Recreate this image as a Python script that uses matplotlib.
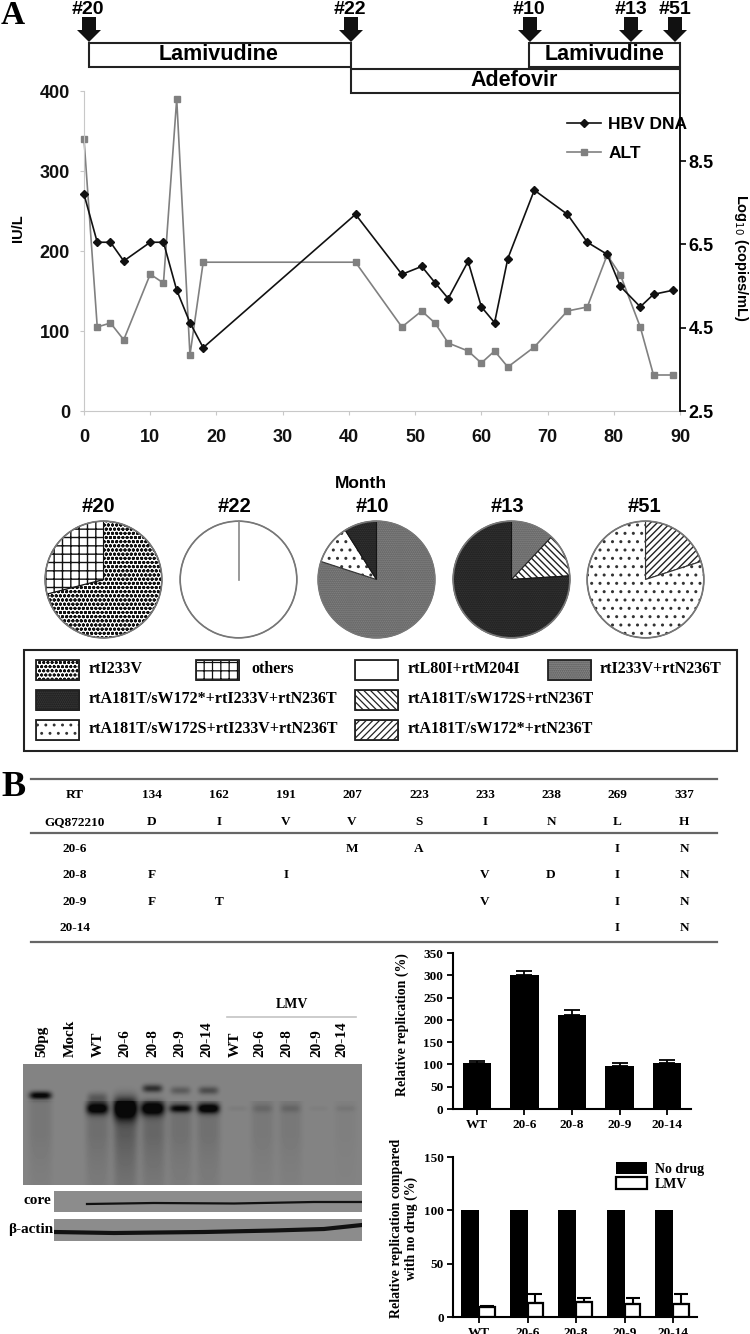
import numpy as np
import matplotlib
matplotlib.use("Agg")
import matplotlib.pyplot as plt
from matplotlib.patches import Rectangle, Polygon

W, H = 750, 1334
SANS = ["Liberation Sans Narrow", "Liberation Sans", "DejaVu Sans"]
SERIF = ["Liberation Serif", "DejaVu Serif"]

# Panel A time course
dna_months = [0, 2, 4, 6, 10, 12, 14, 16, 18, 41, 48, 51, 53, 55, 58, 60, 62, 64, 68, 73, 76, 79, 81, 84, 86, 89]
dna_log = [7.7, 6.55, 6.55, 6.1, 6.55, 6.55, 5.4, 4.62, 4.02, 7.22, 5.78, 5.97, 5.58, 5.2, 6.09, 5.0, 4.62, 6.16, 7.8, 7.22, 6.55, 6.26, 5.49, 5.0, 5.3, 5.4]
alt_months = [0, 2, 4, 6, 10, 12, 14, 16, 18, 41, 48, 51, 53, 55, 58, 60, 62, 64, 68, 73, 76, 79, 81, 84, 86, 89]
alt_iu = [340, 105, 110, 89, 171, 160, 390, 70, 186, 186, 105, 125, 110, 85, 75, 60, 75, 55, 80, 125, 130, 195, 170, 105, 45, 45]
right_ticks = [2.5, 4.5, 6.5, 8.5]

# Treatment bars and sampling arrows (months are implied by pixel positions of the original)
sample_names = ["#20", "#22", "#10", "#13", "#51"]
sample_x = [89, 351, 530, 631, 675]

# Panel A pies
variants = ["rtI233V", "others", "rtL80I+rtM204I", "rtI233V+rtN236T",
            "rtA181T/sW172*+rtI233V+rtN236T", "rtA181T/sW172S+rtN236T",
            "rtA181T/sW172S+rtI233V+rtN236T", "rtA181T/sW172*+rtN236T"]
variant_face = ["white", "white", "white", "#8a8a8a", "#3a3a3a", "white", "white", "white"]
variant_hatch = ["oooo", "++", "", "........", "........", "\\\\\\\\\\", "..", "/////"]
variant_line = ["#111111", "#111111", "#777777", "#555555", "#151515", "#222222", "#333333", "#222222"]
pie_parts = [[0, 1], [2], [3, 6, 4], [3, 5, 4], [7, 6]]
pie_values = [[71, 29], [100], [80, 11, 9], [12, 12, 76], [20, 80]]
pie_left = [44, 179, 317, 452, 586]

# Panel B table
table_head = ["RT", "134", "162", "191", "207", "223", "233", "238", "269", "337"]
table_ref = ["GQ872210", "D", "I", "V", "V", "S", "I", "N", "L", "H"]
table_rows = [["20-6", "", "", "", "M", "A", "", "", "I", "N"],
              ["20-8", "F", "", "I", "", "", "V", "D", "I", "N"],
              ["20-9", "F", "T", "", "", "", "V", "", "I", "N"],
              ["20-14", "", "", "", "", "", "", "", "I", "N"]]
table_x = [75, 152, 219, 286, 352, 419, 485, 551, 617, 684]

# Panel B blot
lane_names = ["50pg", "Mock", "WT", "20-6", "20-8", "20-9", "20-14", "WT", "20-6", "20-8", "20-9", "20-14"]
lane_x = [42, 70, 98, 125, 153, 180, 207, 235, 260, 287, 317, 342]
band_x = [40, 97, 97, 125, 152, 152, 180, 180, 208, 208, 237, 262, 290, 318, 345]
band_y = [1095, 1108, 1097, 1108, 1108, 1088, 1108, 1090, 1108, 1090, 1108, 1108, 1108, 1108, 1108]
band_w = [11, 11, 10, 12, 12, 10, 11, 10, 11, 10, 10, 10, 10, 10, 10]
band_h = [4, 6, 5, 11, 7, 4, 4, 4, 5, 4, 3, 4, 4, 3, 3]
band_dark = [135, 135, 40, 150, 140, 85, 110, 40, 140, 55, 8, 18, 20, 6, 10]
smear_x = [40, 97, 125, 153, 180, 208, 262, 290, 345]
smear_dark = [14, 22, 42, 30, 20, 20, 12, 12, 5]

# Panel B bars
bar_groups = ["WT", "20-6", "20-8", "20-9", "20-14"]
replication = [103, 300, 211, 96, 103]
replication_err = [5, 10, 11, 8, 7]
no_drug = [100, 100, 100, 100, 100]
lmv = [9, 13, 14, 12, 12]
lmv_err = [1.5, 9, 4, 6, 10]

fig = plt.figure(figsize=(W / 100, H / 100), dpi=100)


def ax_px(x0, y0, x1, y1, **kw):
    return fig.add_axes([x0 / W, 1 - y1 / H, (x1 - x0) / W, (y1 - y0) / H], **kw)


# overlay in pixel coordinates for labels, boxes and swatches
ov = ax_px(0, 0, W, H, zorder=5)
ov.set_xlim(0, W)
ov.set_ylim(H, 0)
ov.axis("off")
ov.patch.set_alpha(0)

# %% Panel A line chart
ax = ax_px(84, 91, 680, 411)
ax.plot(alt_months, alt_iu, color="#808080", lw=1.2, marker="s", ms=4.2, label="ALT", clip_on=False)
ax.set_xlim(0, 90)
ax.set_ylim(0, 400)
ax.set_xticks(range(0, 91, 10))
ax.set_yticks(range(0, 401, 100))
ax.spines["top"].set_visible(False)
ax.spines["right"].set_visible(False)
for s in ["left", "bottom"]:
    ax.spines[s].set_color("#c8c8c8")
ax.tick_params(colors="#c8c8c8", length=3, pad=7, labelcolor="#111111")
for t in ax.get_xticklabels() + ax.get_yticklabels():
    t.set_family(SANS)
    t.set_weight("bold")
    t.set_size(13)
ax.tick_params(axis="x", pad=10)

ax2 = ax.twinx()
ax2.plot(dna_months, dna_log, color="#111111", lw=1.2, marker="D", ms=4, label="HBV DNA", clip_on=False)
ax2.set_ylim(2.5, 10.18)
ax2.set_yticks(right_ticks)
ax2.set_yticklabels([f"{v:.1f}" for v in right_ticks], family=SANS, weight="bold", size=13)
ax2.spines["top"].set_visible(False)
ax2.spines["left"].set_visible(False)
ax2.spines["bottom"].set_visible(False)
ax2.spines["right"].set_linewidth(1.3)
ax2.tick_params(length=4, width=1.2, pad=2)
ax2.spines["right"].set_bounds(2.5, 10.1)

h1, l1 = ax2.get_legend_handles_labels()
h2, l2 = ax.get_legend_handles_labels()
ax2.legend(h1 + h2, l1 + l2, loc="upper left", bbox_to_anchor=(0.795, 0.945), frameon=False, labelspacing=0.75,
           handlelength=2.0, handletextpad=0.4, borderpad=0, prop={"family": SANS, "weight": "bold", "size": 12.5})

ov.text(18, 228, "IU/L", rotation=90, ha="center", va="center", family="Liberation Sans", weight="bold", size=10.5)
ov.text(741, 258, "Log$_{10}$ (copies/mL)", rotation=270, ha="center", va="center", family="Liberation Sans",
        weight="bold", size=10.5, math_fontfamily="dejavusans")
ov.text(361, 484, "Month", ha="center", va="center", family=SANS, weight="bold", size=12.5)
ov.text(13, 16, "A", ha="center", va="center", family=SERIF, weight="bold", size=24)
ov.text(13, 788, "B", ha="center", va="center", family=SERIF, weight="bold", size=26)

# treatment boxes
for x0, x1, y0, y1, name in [(89, 351, 43, 67, "Lamivudine"), (529, 680, 43, 67, "Lamivudine"), (351, 680, 69, 93, "Adefovir")]:
    ov.add_patch(Rectangle((x0, y0), x1 - x0, y1 - y0, fc="white", ec="#222222", lw=1.5))
    ov.text((x0 + x1) / 2 + (-1 if x0 != 529 else 0), (y0 + y1) / 2, name, ha="center", va="center", family="Liberation Sans", weight="bold", size=15.5)

for name, x in zip(sample_names, sample_x):
    ov.add_patch(Polygon([(x - 7, 17), (x + 7, 17), (x + 7, 30), (x + 12, 30), (x, 42), (x - 12, 30), (x - 7, 30)], fc="#111111", ec="none", zorder=3))
    ov.text(x - 1 if x < 600 else x, 10, name, ha="center", va="center", family=SANS, weight="bold", size=14, zorder=4)

# %% Pies
for name, parts, vals, left, tx in zip(sample_names, pie_parts, pie_values, pie_left, [98, 235, 372, 507, 644]):
    pax = ax_px(left, 520, left + 119, 639)
    wedges, _ = pax.pie(vals, startangle=90, counterclock=False, radius=1.0)
    for w, p in zip(wedges, parts):
        w.set_facecolor(variant_face[p])
        w.set_hatch(variant_hatch[p])
        w.set_edgecolor(variant_line[p])
        w.set_linewidth(0.8)
    # grey ring like the outline in the figure
    pax.pie([1], radius=1.0, startangle=90, wedgeprops={"fc": "none", "ec": "#777777", "lw": 1.2})
    if len(vals) == 1:
        pax.plot([0, 0], [0, 1], color="#888888", lw=1.2)
    pax.set_xlim(-1.02, 1.02)
    pax.set_ylim(-1.02, 1.02)
    ov.text(tx, 507, name, ha="center", va="center", family=SANS, weight="bold", size=14.5)

plt.rcParams["hatch.linewidth"] = 0.9

# %% Pie legend
ov.add_patch(Rectangle((24, 650), 713, 101, fc="white", ec="#222222", lw=1.5, zorder=1))
legend_pos = [(36, 670, 89), (196, 670, 251), (355, 670, 408), (548, 670, 600),
              (36, 700, 89), (355, 700, 408), (36, 730, 89), (355, 730, 408)]
for i, (sx, sy, tx) in enumerate(legend_pos):
    ov.add_patch(Rectangle((sx, sy - 10), 43, 20, fc=variant_face[i], ec=variant_line[i], hatch=variant_hatch[i], lw=0.6, zorder=2))
    ov.add_patch(Rectangle((sx, sy - 10), 43, 20, fc="none", ec="#222222", lw=1.3, zorder=2))
    ov.text(tx, sy - 1, variants[i], ha="left", va="center", family=SERIF, weight="bold", size=11.5, zorder=2)

# %% Table
for y in [779, 833, 942]:
    ov.plot([31, 717], [y, y], color="#666666", lw=1.6)
rows = [table_head, table_ref] + table_rows
for y, row in zip([795, 822, 849, 875, 902, 928], rows):
    for x, s in zip(table_x, row):
        ov.text(x, y, s, ha="center", va="center", family=SERIF, weight="bold", size=9.5)

# %% Blot
x0, x1, y0, y1 = 23, 362, 1064, 1185
xx, yy = np.meshgrid(np.arange(x0, x1), np.arange(y0, y1))
gel = np.full(xx.shape, 132.0)
for x, dark in zip(smear_x, smear_dark):
    gel -= dark * np.exp(-((xx - x) / 12.0) ** 4) * np.exp(-np.clip(yy - 1135, 0, None) / 60.0) * (yy > 1100)
for x, y, w, h, dark in zip(band_x, band_y, band_w, band_h, band_dark):
    gel -= dark * np.exp(-((xx - x) / w) ** 4) * np.exp(-((yy - y) / h) ** 2)
gax = ax_px(x0, y0, x1, y1)
gax.imshow(np.clip(gel, 8, 255), cmap="gray", vmin=0, vmax=255, aspect="auto")
gax.axis("off")

cax = ax_px(54, 1191, 362, 1212)
cax.set_facecolor("#8c8c8c")
cax.plot([33, 100, 180, 260, 308], [13, 12, 12.5, 11, 11], color="#111111", lw=1.6)
cax.set_xlim(0, 308)
cax.set_ylim(21, 0)
cax.axis("on")
cax.set_xticks([])
cax.set_yticks([])
for s in cax.spines.values():
    s.set_visible(False)

bax = ax_px(54, 1219, 362, 1241)
bax.set_facecolor("#8c8c8c")
bax.plot([0, 60, 150, 220, 270, 308], [13, 14, 13, 11.5, 10, 6], color="#111111", lw=3)
bax.set_xlim(0, 308)
bax.set_ylim(22, 0)
bax.set_xticks([])
bax.set_yticks([])
for s in bax.spines.values():
    s.set_visible(False)

for name, x in zip(lane_names, lane_x):
    ov.text(x, 1057, name, rotation=90, ha="center", va="bottom", family=SERIF, weight="bold", size=11)
ov.plot([227, 356], [1017, 1017], color="#c4c4c4", lw=1.2)
ov.text(292, 1004, "LMV", ha="center", va="center", family=SERIF, weight="bold", size=10)
ov.text(37, 1200, "core", ha="center", va="center", family=SERIF, weight="bold", size=11)
ov.text(31, 1229, "β-actin", ha="center", va="center", family=SERIF, weight="bold", size=11)


def style_bars(a):
    a.spines["top"].set_visible(False)
    a.spines["right"].set_visible(False)
    a.spines["left"].set_linewidth(1.5)
    a.spines["bottom"].set_linewidth(1.5)
    a.tick_params(width=1.3, length=4, pad=3)
    for t in a.get_xticklabels() + a.get_yticklabels():
        t.set_family(SERIF)
        t.set_weight("bold")
        t.set_size(9.5)


# %% Replication bars
r1 = ax_px(453, 953, 691, 1109)
pos = np.arange(len(bar_groups))
r1.bar(pos, replication, width=0.6, color="black", yerr=[[0] * 5, replication_err], capsize=6,
       error_kw={"ecolor": "black", "elinewidth": 1.3, "capthick": 1.3})
r1.set_xlim(-0.5, 4.5)
r1.set_ylim(0, 350)
r1.set_yticks(range(0, 351, 50))
r1.set_xticks(pos)
r1.set_xticklabels(bar_groups)
style_bars(r1)
ov.text(402, 1025, "Relative replication (%)", rotation=90, ha="center", va="center", family=SERIF, weight="bold", size=10)

r2 = ax_px(453.4, 1157, 697, 1317)
r2.bar(pos - 0.185, no_drug, width=0.37, color="black", label="No drug")
r2.bar(pos + 0.16, lmv, width=0.32, color="white", edgecolor="black", linewidth=1.6, label="LMV",
       yerr=[[0] * 5, lmv_err], capsize=5, error_kw={"ecolor": "black", "elinewidth": 1.5, "capthick": 1.5})
r2.set_xlim(-0.527, 4.486)
r2.set_ylim(0, 150)
r2.set_yticks([0, 50, 100, 150])
r2.set_xticks(pos)
r2.set_xticklabels(bar_groups)
style_bars(r2)
r2.legend(loc="upper left", bbox_to_anchor=(0.64, 1.01), frameon=False, labelspacing=0.1, handlelength=2.2, handleheight=0.9,
          handletextpad=0.6, borderpad=0, prop={"family": SERIF, "weight": "bold", "size": 10})
ov.text(404, 1228, "Relative replication compared\nwith no drug (%)", rotation=90, ha="center", va="center", family=SERIF,
        weight="bold", size=10, linespacing=1.15)

fig.savefig("out.png", dpi=100)
